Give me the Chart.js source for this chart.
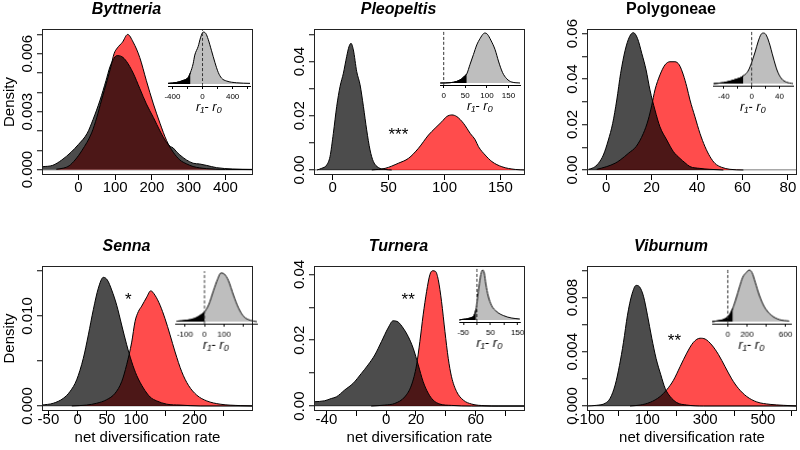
<!DOCTYPE html>
<html><head><meta charset="utf-8">
<script src="https://cdn.jsdelivr.net/npm/chart.js@4/dist/chart.umd.min.js"></script>
<style>
html,body{margin:0;padding:0;background:#fff;overflow:hidden}
#wrap{position:relative;width:800px;height:450px;overflow:hidden;background:#fff}
#wrap canvas{position:absolute}
</style></head>
<body><div id="wrap"></div>
<script>
// ---------------- DATA ----------------
const titles = ['Byttneria', 'Pleopeltis', 'Polygoneae', 'Senna', 'Turnera', 'Viburnum'];

// density curves: [rate, density]
const byttneriaGrey = [[-97,0.00015],[-70,0.00022],[-45,0.0005],[-20,0.0009],[0,0.0013],[24,0.00188],[40,0.0026],[59,0.0036],[75,0.0046],[86,0.00533],[95,0.0057],[104,0.0059],[118,0.00585],[131,0.0056],[149,0.005],[167,0.0042],[185,0.0034],[204,0.0027],[222,0.002],[240,0.0014],[250,0.0012],[258,0.00112],[268,0.0009],[276,0.00076],[294,0.0005],[312,0.00033],[330,0.00029],[348,0.00022],[376,0.0001],[420,0.00003],[475,0.00001]];
const byttneriaRed = [[-60,0.00002],[-40,0.00008],[-25,0.0002],[-9,0.0005],[10,0.001],[36,0.0019],[50,0.0027],[63,0.0036],[78,0.0046],[88,0.0053],[97,0.006],[106,0.0063],[120,0.0066],[134,0.007],[149,0.0066],[167,0.0058],[185,0.0046],[204,0.0034],[222,0.0024],[240,0.0015],[258,0.0009],[276,0.0005],[294,0.0003],[312,0.00016],[348,0.00005],[400,0.00001],[475,0]];
const pleopeltisGrey = [[-14,0],[-9.9,0.0006],[-5.4,0.0018],[-2.4,0.0049],[0.6,0.0135],[3.6,0.0234],[6.6,0.0308],[9.6,0.0357],[12.5,0.0418],[14.6,0.0455],[16.4,0.0467],[18.5,0.0443],[21.5,0.0363],[24.5,0.0314],[27.5,0.0234],[30.4,0.0148],[33.4,0.0074],[36.4,0.0031],[40.9,0.0009],[46.9,0.0002],[52.8,0]];
const pleopeltisRed = [[35,0],[46.9,0.0006],[58.8,0.0025],[67.8,0.0043],[76.7,0.008],[85.7,0.0129],[91.6,0.0154],[97.6,0.0178],[102,0.0197],[106.6,0.0203],[111,0.0197],[117,0.0172],[123,0.0135],[127.5,0.0111],[130.4,0.0086],[136.4,0.0055],[142.4,0.0031],[151.3,0.0012],[163.3,0.0002],[172,0]];
const polygoneaeGrey = [[-7.8,0.0003],[-5.6,0.001],[-3.4,0.0029],[-1.2,0.0066],[1,0.0132],[2.9,0.0205],[4.7,0.0308],[6.4,0.0425],[8.4,0.0527],[10.3,0.0586],[12,0.0604],[13.8,0.0579],[15.7,0.0513],[17.6,0.044],[19.3,0.0352],[21.5,0.0264],[23.7,0.019],[26.7,0.0132],[29.6,0.0081],[32.5,0.0051],[34.7,0.0032],[36.9,0.0015],[41.3,0.0007],[45.7,0.0003],[51.6,0]];
const polygoneaeRed = [[-4.1,0.0003],[0.3,0.0015],[4,0.003],[6.2,0.0044],[10,0.0075],[13.2,0.0103],[16.4,0.0161],[18.5,0.022],[20.1,0.0285],[21.5,0.0352],[23.7,0.0418],[25.9,0.0462],[28.1,0.0476],[30.3,0.0476],[32.2,0.0462],[34,0.0418],[35.5,0.0366],[36.9,0.0308],[39.1,0.0234],[41.3,0.0161],[43.5,0.0103],[45.7,0.0059],[47.9,0.0029],[50.8,0.0012],[54.5,0.0003],[60.4,0]];
const sennaGrey = [[-61,0.0001],[-41.7,0.0003],[-24.5,0.00085],[-13.1,0.0016],[-1.7,0.0029],[9.7,0.0053],[18.3,0.0079],[26.8,0.0107],[35.4,0.0131],[44,0.0143],[50.8,0.014],[58.2,0.0129],[66.8,0.0112],[75.3,0.009],[83.9,0.0068],[92.5,0.0049],[101,0.0034],[112.4,0.002],[123.9,0.001],[135.3,0.00056],[152.4,0.0002],[175.2,0.0001],[209.5,0],[300,0]];
const sennaRed = [[-10,0],[15.4,0.0001],[32.5,0.0003],[49.7,0.0007],[63.9,0.0014],[75.3,0.0027],[83.9,0.0046],[92.5,0.0071],[98.2,0.0094],[103.9,0.0105],[109.6,0.0111],[118.2,0.0121],[125,0.0128],[132.4,0.0123],[141,0.0112],[149.5,0.0097],[158.1,0.0079],[166.7,0.006],[178.1,0.0038],[189.5,0.0023],[203.8,0.0012],[220.9,0.00056],[243.7,0.0002],[278,0.00004],[300,0]];
const turneraGrey = [[-48.3,0.0013],[-41.2,0.0016],[-36.7,0.0023],[-33.3,0.0028],[-27.7,0.0049],[-22.1,0.0069],[-16.6,0.0099],[-12.1,0.0125],[-7.6,0.0155],[-3.1,0.0196],[1.3,0.0237],[4.7,0.0259],[8.1,0.0255],[11.4,0.0237],[14.8,0.0211],[18.1,0.0176],[21.5,0.0125],[24.8,0.0074],[28.2,0.0039],[31.5,0.0018],[36,0.0006],[43.8,0.0002],[57.3,0],[93,0]];
const turneraRed = [[-10,0],[-0.9,0.0003],[5.8,0.0008],[12.5,0.0028],[17,0.0064],[20.4,0.0125],[22.6,0.0196],[24.8,0.0277],[27.1,0.0348],[29.3,0.0399],[31.1,0.0411],[33.1,0.0409],[34.9,0.0384],[37.1,0.0318],[39.4,0.0226],[41.6,0.0145],[43.8,0.0089],[47.2,0.0044],[51.7,0.0018],[57.3,0.0006],[66.2,0.0001],[75,0],[93,0]];
const viburnumGrey = [[-109,0],[-75,0.00005],[-46,0.0002],[-28.8,0.00057],[-11.5,0.00155],[3.5,0.003],[17.3,0.0047],[31.1,0.0067],[46.1,0.0082],[61.1,0.0089],[72.7,0.0088],[86.5,0.0081],[100.3,0.0067],[115.3,0.005],[130.3,0.0035],[146.5,0.0023],[161.5,0.0013],[178.8,0.0007],[201.8,0.00025],[236.4,0.00007],[294,0],[618,0]];
const viburnumRed = [[40,0],[75,0.00007],[109.6,0.00027],[144.2,0.0007],[167.2,0.0012],[190.3,0.0019],[213.3,0.0029],[236.4,0.0039],[259.5,0.0047],[282.6,0.005],[299.9,0.00494],[323,0.0045],[346,0.0038],[369,0.0029],[392,0.002],[415,0.0013],[444,0.0007],[478.7,0.0003],[524.8,0.00012],[571,0.00005],[618,0]];

// axis ranges, ticks and tick labels
const byttneriaX = [-99, 475], byttneriaY = [-0.00028, 0.00728];
const pleopeltisX = [-16.7, 172], pleopeltisY = [-0.00185, 0.052];
const polygoneaeX = [-8.4, 84], polygoneaeY = [-0.0022, 0.062];
const sennaX = [-61, 300], sennaY = [-0.00056, 0.01556];
const turneraX = [-48.3, 93], turneraY = [-0.0015, 0.04255];
const viburnumX = [-109, 618], viburnumY = [-0.00037, 0.01033];

const byttneriaXTicks = [0,100,200,300,400], byttneriaXLabels = ['0','100','200','300','400'];
const pleopeltisXTicks = [0,50,100,150], pleopeltisXLabels = ['0','50','100','150'];
const polygoneaeXTicks = [0,20,40,60,80], polygoneaeXLabels = ['0','20','40','60','80'];
const sennaXTicks = [-50,0,50,100,150,200,250], sennaXLabels = ['-50','0','50','100','','200',''];
const turneraXTicks = [-40,-20,0,20,40,60,80], turneraXLabels = ['-40','','0','20','','60',''];
const viburnumXTicks = [-100,0,100,200,300,400,500,600], viburnumXLabels = ['-100','','100','','300','','500',''];

const byttneriaYTicks = [0,0.001,0.002,0.003,0.004,0.005,0.006,0.007], byttneriaYLabels = ['0.000','0.003','0.006'];
const pleopeltisYTicks = [0,0.01,0.02,0.03,0.04,0.05], pleopeltisYLabels = ['0.00','0.02','0.04'];
const polygoneaeYTicks = [0,0.01,0.02,0.03,0.04,0.05,0.06], polygoneaeYLabels = ['0.00','0.02','0.04','0.06'];
const sennaYTicks = [0,0.005,0.01,0.015], sennaYLabels = ['0.000','0.010'];
const turneraYTicks = [0,0.01,0.02,0.03,0.04], turneraYLabels = ['0.00','0.02','0.04'];
const viburnumYTicks = [0,0.002,0.004,0.006,0.008,0.01], viburnumYLabels = ['0.000','0.004','0.008'];

// significance marks: [text, rate, density]
const pleopeltisSig = ['***', 58.8, 0.0148];
const sennaSig = ['*', 86.8, 0.0123];
const turneraSig = ['**', 14.8, 0.0335];
const viburnumSig = ['**', 193.8, 0.00517];

// inset: difference r1 - r0 (relative density), lower tail cut-off, ticks, labels
const byttneriaDiff = [[-459,0.011],[-347,0.028],[-258,0.067],[-192,0.122],[-160,0.222],[-125,0.389],[-103,0.556],[-58,0.722],[-27,0.889],[9,1.0],[44,0.972],[75,0.861],[120,0.639],[164,0.417],[209,0.222],[253,0.111],[320,0.056],[453,0.022],[631,0.011]];
const pleopeltisDiff = [[-8,0],[14.7,0.006],[30.1,0.032],[41.7,0.084],[49.5,0.148],[53.3,0.181],[61,0.374],[68.8,0.568],[76.5,0.761],[84.2,0.89],[92,0.987],[95.8,1.0],[101.2,0.974],[109,0.858],[119,0.665],[126.7,0.439],[136,0.213],[146,0.084],[157.6,0.019],[177,0]];
const polygoneaeDiff = [[-54.8,0],[-40.5,0.02],[-31,0.05],[-21.4,0.09],[-14.3,0.13],[-12,0.16],[-9.5,0.18],[-4.8,0.26],[0,0.42],[4.8,0.62],[9.5,0.84],[13.3,0.97],[16.7,1.0],[20.5,0.97],[25.2,0.81],[31,0.52],[36.7,0.26],[42.9,0.1],[50,0.03],[59.5,0]];
const sennaDiff = [[-142,0.01],[-90.6,0.03],[-47.9,0.07],[-22.2,0.13],[0,0.2],[20.5,0.34],[46.2,0.64],[66.7,0.87],[83.8,1.0],[100.9,0.98],[123,0.84],[148.7,0.54],[174.4,0.28],[200,0.11],[234,0.03],[268,0]];
const turneraDiff = [[-65,0],[-56,0.01],[-25.7,0.04],[-9.8,0.1],[-3,0.22],[-1.2,0.29],[7.4,0.66],[14.7,0.91],[20.8,1.0],[27,0.94],[33,0.72],[41.7,0.48],[54,0.29],[72.3,0.17],[96.8,0.09],[127.5,0.04],[158,0.02]];
const viburnumDiff = [[-162,0],[-121,0.01],[-34,0.05],[17,0.13],[52,0.26],[86,0.45],[121,0.67],[155,0.86],[190,0.95],[224,1.0],[252,0.95],[286,0.76],[328,0.51],[379,0.29],[448,0.13],[534,0.04],[638,0.01]];

const byttneriaCut = -160, pleopeltisCut = 53.3, polygoneaeCut = -12, sennaCut = 0, turneraCut = -3, viburnumCut = 52;
const byttneriaDiffX = [-459, 631], pleopeltisDiffX = [-8.6, 176.6], polygoneaeDiffX = [-55.7, 59.5], sennaDiffX = [-150, 268], turneraDiffX = [-65, 158], viburnumDiffX = [-162, 655];
const byttneriaDiffTicks = [-400,-200,0,200,400,600], byttneriaDiffLabels = ['-400','','0','','400',''];
const pleopeltisDiffTicks = [0,50,100,150], pleopeltisDiffLabels = ['0','50','100','150'];
const polygoneaeDiffTicks = [-40,-20,0,20,40], polygoneaeDiffLabels = ['-40','','0','','40'];
const sennaDiffTicks = [-100,0,100,200], sennaDiffLabels = ['-100','0','100',''];
const turneraDiffTicks = [-50,0,50,100,150], turneraDiffLabels = ['-50','','50','','150'];
const viburnumDiffTicks = [0,200,400,600], viburnumDiffLabels = ['0','200','','600'];

// ---------------- DRAWING ----------------
const FONT = "'Liberation Sans', Arial, Helvetica, sans-serif";
Chart.defaults.font.family = FONT;
Chart.defaults.color = '#000';

function addCanvas(left, top, w, h) {
  const c = document.createElement('canvas');
  c.width = w; c.height = h;
  c.style.left = left + 'px'; c.style.top = top + 'px';
  c.style.width = w + 'px'; c.style.height = h + 'px';
  document.getElementById('wrap').appendChild(c);
  return c;
}
const pts = arr => arr.map(p => ({x: p[0], y: p[1]}));

const panelDecor = {
  id: 'panelDecor',
  afterDatasetsDraw(chart, args, opts) {
    const {ctx, chartArea: a, scales} = chart;
    ctx.save();
    ctx.strokeStyle = '#222'; ctx.lineWidth = 1;
    ctx.strokeRect(Math.round(a.left) + 0.5, Math.round(a.top) + 0.5, Math.round(a.right - a.left) - 1, Math.round(a.bottom - a.top) - 1);
    ctx.fillStyle = '#000';
    ctx.font = '15px ' + FONT;
    ctx.textAlign = 'center'; ctx.textBaseline = 'middle';
    (opts.yLabels || []).forEach(s => {
      const py = scales.y.getPixelForValue(parseFloat(s));
      ctx.save();
      ctx.translate(a.left - 14, py);
      ctx.rotate(-Math.PI / 2);
      ctx.fillText(s, 0, 0);
      ctx.restore();
    });
    if (opts.sig) {
      ctx.font = '17px ' + FONT;
      ctx.textBaseline = 'alphabetic';
      ctx.fillText(opts.sig[0], scales.x.getPixelForValue(opts.sig[1]), scales.y.getPixelForValue(opts.sig[2]) + 0.57 * 17);
    }
    ctx.restore();
  }
};

function panel(o) {
  const w = 42 + o.plotW + 42;
  const bottomRow = o.row === 1;
  const L = bottomRow ? {tp: 12.1, tb: 9.7, xh: 39, lp: -5} : {tp: 0.4, tb: 9.4, xh: 50, lp: -1};
  const cv = addCanvas(o.plotL - 42, bottomRow ? 225 : 0, w, 225);
  const line = {showLine: true, fill: 'origin', borderColor: '#000', borderWidth: 1, pointRadius: 0, cubicInterpolationMode: 'monotone'};
  new Chart(cv, {
    type: 'scatter',
    data: {datasets: [
      Object.assign({data: pts(o.grey), order: 1, backgroundColor: 'rgba(0,0,0,0.7)'}, line),
      Object.assign({data: pts(o.red), order: 2, backgroundColor: 'rgba(255,0,0,0.7)'}, line)
    ]},
    options: {
      responsive: false, animation: false, devicePixelRatio: 1,
      layout: {padding: {left: 0, right: 42, top: 0, bottom: 0}},
      plugins: {
        legend: {display: false}, tooltip: {enabled: false},
        title: {display: true, text: o.title, color: '#000',
          font: {size: 16, weight: 'bold', style: o.italic ? 'italic' : 'normal', lineHeight: 1.2},
          padding: {top: L.tp, bottom: L.tb}},
        panelDecor: {yLabels: o.yLabels, sig: o.sig}
      },
      scales: {
        x: {
          type: 'linear', min: o.xr[0], max: o.xr[1],
          afterBuildTicks: s => { s.ticks = o.xTicks.map(v => ({value: v})); },
          afterFit: s => { s.height = L.xh; },
          ticks: {autoSkip: false, maxRotation: 0, minRotation: 0, color: '#000', font: {size: 15}, padding: L.lp,
            callback: (v, i) => o.xLabels[i]},
          grid: {drawOnChartArea: false, drawTicks: true, tickLength: 5, tickColor: '#000', tickWidth: 1, color: '#000'},
          border: {display: false},
          title: {display: bottomRow, text: 'net diversification rate', color: '#000', font: {size: 15, lineHeight: 1.2}, padding: {top: 0, bottom: 2.7}}
        },
        y: {
          type: 'linear', min: o.yr[0], max: o.yr[1],
          afterBuildTicks: s => { s.ticks = o.yTicks.map(v => ({value: v})); },
          afterFit: s => { s.width = 42; },
          ticks: {display: false},
          grid: {drawOnChartArea: true, drawTicks: true, tickLength: 5, tickColor: '#000', tickWidth: 1, lineWidth: 1.5,
            color: c => (c.tick && c.tick.value === 0) ? '#a8a8a8' : 'rgba(0,0,0,0)'},
          border: {display: false},
          title: {display: !!o.ylab, text: 'Density', color: '#000', font: {size: 15, lineHeight: 1.2}, padding: {top: 1, bottom: 0}}
        }
      }
    },
    plugins: [panelDecor]
  });
}

function inset(o) {
  const padL = 22, padR = 22, padT = 2, xh = 32;
  const cv = addCanvas(o.areaL - padL, o.areaT - padT, (o.areaR - o.areaL) + padL + padR, (o.axisY - o.areaT) + padT + xh);
  const tail = o.data.filter(p => p[0] <= o.cut);
  const base = {showLine: true, pointRadius: 0, cubicInterpolationMode: 'monotone'};
  new Chart(cv, {
    type: 'scatter',
    data: {datasets: [
      Object.assign({data: [{x: 0, y: -0.04}, {x: 0, y: 1.04}], order: 1, fill: false, borderColor: '#333', borderWidth: 1, borderDash: [3, 2]}, base),
      Object.assign({data: pts(tail), order: 2, fill: 'origin', backgroundColor: '#000', borderColor: '#000', borderWidth: 1}, base),
      Object.assign({data: pts(o.data), order: 3, fill: 'origin', backgroundColor: '#bebebe', borderColor: '#000', borderWidth: 1}, base)
    ]},
    options: {
      responsive: false, animation: false, devicePixelRatio: 1,
      layout: {padding: {left: padL, right: padR, top: padT, bottom: 0}},
      plugins: {legend: {display: false}, tooltip: {enabled: false}, title: {display: false}},
      scales: {
        x: {
          type: 'linear', min: o.xr[0], max: o.xr[1],
          afterBuildTicks: s => { s.ticks = o.ticks.map(v => ({value: v})); },
          afterFit: s => { s.height = xh; },
          ticks: {autoSkip: false, maxRotation: 0, minRotation: 0, color: '#000', font: {size: 8}, padding: 3,
            callback: (v, i) => o.labels[i]},
          grid: {drawOnChartArea: false, tickLength: 3, tickColor: '#000', tickWidth: 1},
          border: {display: true, color: '#000', width: 1},
          title: {display: true, text: 'r\u2081- r\u2080', color: '#000', font: {size: 13, style: 'italic', lineHeight: 1.2}, padding: {top: 0, bottom: 2.5}}
        },
        y: {display: false, min: -0.04, max: 1.04}
      }
    }
  });
}

// main panels
panel({row: 0, plotL: 42,  plotW: 211, title: titles[0], italic: true,  ylab: true,  grey: byttneriaGrey,  red: byttneriaRed,  xr: byttneriaX,  yr: byttneriaY,  xTicks: byttneriaXTicks,  xLabels: byttneriaXLabels,  yTicks: byttneriaYTicks,  yLabels: byttneriaYLabels});
panel({row: 0, plotL: 314, plotW: 211, title: titles[1], italic: true,  ylab: false, grey: pleopeltisGrey, red: pleopeltisRed, xr: pleopeltisX, yr: pleopeltisY, xTicks: pleopeltisXTicks, xLabels: pleopeltisXLabels, yTicks: pleopeltisYTicks, yLabels: pleopeltisYLabels, sig: pleopeltisSig});
panel({row: 0, plotL: 587, plotW: 210, title: titles[2], italic: false, ylab: false, grey: polygoneaeGrey, red: polygoneaeRed, xr: polygoneaeX, yr: polygoneaeY, xTicks: polygoneaeXTicks, xLabels: polygoneaeXLabels, yTicks: polygoneaeYTicks, yLabels: polygoneaeYLabels});
panel({row: 1, plotL: 42,  plotW: 211, title: titles[3], italic: true,  ylab: true,  grey: sennaGrey,      red: sennaRed,      xr: sennaX,      yr: sennaY,      xTicks: sennaXTicks,      xLabels: sennaXLabels,      yTicks: sennaYTicks,      yLabels: sennaYLabels, sig: sennaSig});
panel({row: 1, plotL: 314, plotW: 211, title: titles[4], italic: true,  ylab: false, grey: turneraGrey,    red: turneraRed,    xr: turneraX,    yr: turneraY,    xTicks: turneraXTicks,    xLabels: turneraXLabels,    yTicks: turneraYTicks,    yLabels: turneraYLabels, sig: turneraSig});
panel({row: 1, plotL: 587, plotW: 210, title: titles[5], italic: true,  ylab: false, grey: viburnumGrey,   red: viburnumRed,   xr: viburnumX,   yr: viburnumY,   xTicks: viburnumXTicks,   xLabels: viburnumXLabels,   yTicks: viburnumYTicks,   yLabels: viburnumYLabels, sig: viburnumSig});

// insets
inset({areaL: 168,   areaR: 250,   areaT: 29.7,  axisY: 86,    data: byttneriaDiff,  cut: byttneriaCut,  xr: byttneriaDiffX,  ticks: byttneriaDiffTicks,  labels: byttneriaDiffLabels});
inset({areaL: 440,   areaR: 520,   areaT: 30.7,  axisY: 85,    data: pleopeltisDiff, cut: pleopeltisCut, xr: pleopeltisDiffX, ticks: pleopeltisDiffTicks, labels: pleopeltisDiffLabels});
inset({areaL: 712.7, areaR: 793.3, areaT: 31.3,  axisY: 86,    data: polygoneaeDiff, cut: polygoneaeCut, xr: polygoneaeDiffX, ticks: polygoneaeDiffTicks, labels: polygoneaeDiffLabels});
inset({areaL: 175,   areaR: 256.6, areaT: 271.3, axisY: 324,   data: sennaDiff,      cut: sennaCut,      xr: sennaDiffX,      ticks: sennaDiffTicks,      labels: sennaDiffLabels});
inset({areaL: 459.3, areaR: 520,   areaT: 268,   axisY: 322,   data: turneraDiff,    cut: turneraCut,    xr: turneraDiffX,    ticks: turneraDiffTicks,    labels: turneraDiffLabels});
inset({areaL: 712.4, areaR: 791.2, areaT: 268,   axisY: 323.5, data: viburnumDiff,   cut: viburnumCut,   xr: viburnumDiffX,   ticks: viburnumDiffTicks,   labels: viburnumDiffLabels});
</script>
</body></html>
